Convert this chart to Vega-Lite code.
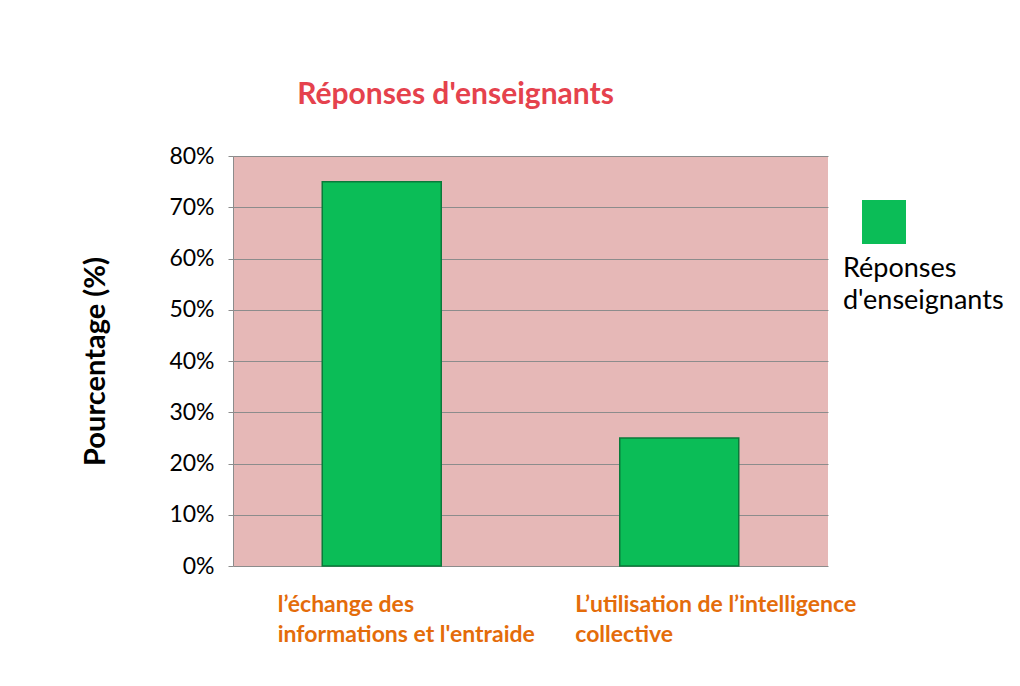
{
  "$schema": "https://vega.github.io/schema/vega-lite/v6.json",
  "width": 595,
  "height": 410,
  "autosize": {"type": "none"},
  "padding": {"left": 233, "top": 156, "right": 192, "bottom": 120},
  "background": "white",
  "config": {
    "font": "Lato",
    "view": {"fill": "#E6B8B7", "stroke": null}
  },
  "title": {
    "text": "Réponses d'enseignants",
    "font": "Lato",
    "fontSize": 30,
    "fontWeight": "bold",
    "color": "#E5424D",
    "anchor": "middle",
    "frame": "group",
    "dx": -75,
    "offset": 35
  },
  "data": {
    "values": [
      {"categorie": "l’échange des|informations  et l'entraide", "pourcentage": 0.75, "serie": "Réponses d'enseignants"},
      {"categorie": "L’utilisation de l’intelligence|collective", "pourcentage": 0.25, "serie": "Réponses d'enseignants"}
    ]
  },
  "mark": {"type": "bar", "stroke": "#0A7A3A", "strokeWidth": 1.5},
  "encoding": {
    "x": {
      "field": "categorie",
      "type": "nominal",
      "sort": null,
      "scale": {"paddingInner": 0.6, "paddingOuter": 0.3},
      "axis": {
        "title": null,
        "labelAngle": 0,
        "domain": false,
        "ticks": false,
        "labelExpr": "split(datum.label, '|')",
        "labelAlign": "left",
        "labelBaseline": "top",
        "labelOffset": -104,
        "labelPadding": 27,
        "labelFont": "Lato",
        "labelFontSize": 23,
        "labelFontWeight": "bold",
        "labelColor": "#E46C0A",
        "labelLineHeight": 30,
        "labelLimit": 400
      }
    },
    "y": {
      "field": "pourcentage",
      "type": "quantitative",
      "scale": {"domain": [0, 0.8], "nice": false},
      "axis": {
        "title": "Pourcentage (%)",
        "titleFont": "Lato",
        "titleFontSize": 29,
        "titleFontWeight": "bold",
        "titleColor": "black",
        "titlePadding": 58,
        "values": [0, 0.1, 0.2, 0.3, 0.4, 0.5, 0.6, 0.7, 0.8],
        "format": ".0%",
        "labelFont": "Lato",
        "labelFontSize": 23,
        "labelColor": "black",
        "labelPadding": 14,
        "tickSize": 5,
        "tickColor": "#8C8C8C",
        "domainColor": "#8C8C8C",
        "gridColor": "#8C8C8C",
        "gridOpacity": 1
      }
    },
    "color": {
      "field": "serie",
      "type": "nominal",
      "scale": {"range": ["#0BBD57"]},
      "legend": {
        "orient": "none",
        "legendX": 610,
        "legendY": 44,
        "padding": 0,
        "title": ["Réponses", "d'enseignants"],
        "titleOrient": "bottom",
        "titleAnchor": "start",
        "titleAlign": "left",
        "titleFont": "Lato",
        "titleFontSize": 27,
        "titleFontWeight": "normal",
        "titleColor": "black",
        "titleLineHeight": 32,
        "titlePadding": 12,
        "titleLimit": 300,
        "labelExpr": "''",
        "symbolType": "square",
        "symbolSize": 1936,
        "symbolStrokeWidth": 0,
        "symbolOffset": 19,
        "symbolOpacity": 1
      }
    }
  }
}
